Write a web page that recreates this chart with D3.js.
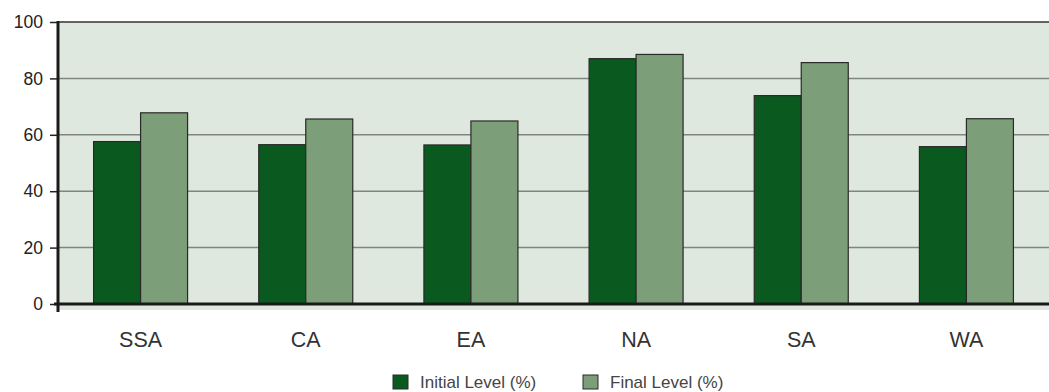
<!doctype html>
<html lang="en">
<head>
  <meta charset="utf-8">
  <style>
    body { margin: 0; background: #fff; }
    text { font-family: "Liberation Sans", Arial, sans-serif; }
  </style>
</head>
<body>
  <div id="chart"></div>
  <script src="https://d3js.org/d3.v7.min.js"></script>
  <script>
  // data
  var categories = ["SSA", "CA", "EA", "NA", "SA", "WA"];
  var initialLevel = [57.6, 56.5, 56.4, 87.0, 73.9, 55.8];
  var finalLevel = [67.8, 65.6, 64.9, 88.5, 85.6, 65.7];
  var seriesNames = ["Initial Level (%)", "Final Level (%)"];
  var yTicks = [0, 20, 40, 60, 80, 100];

  var width = 1049, height = 392;
  var margin = {top: 22, right: 0, bottom: 88, left: 58};
  var plotW = width - margin.left - margin.right;
  var plotH = height - margin.top - margin.bottom;

  var svg = d3.select("#chart").append("svg")
      .attr("width", width)
      .attr("height", height);

  var g = svg.append("g")
      .attr("transform", "translate(" + margin.left + "," + margin.top + ")");

  var x = d3.scaleBand().domain(categories).range([0, plotW]);
  var x1 = d3.scaleBand().domain(seriesNames).range([0, 94]);
  var y = d3.scaleLinear().domain([0, 100]).range([plotH, 0]);

  // plot background
  g.append("rect")
      .attr("x", 0).attr("y", 0)
      .attr("width", plotW).attr("height", plotH + 6)
      .attr("fill", "#dfe8de");

  // grid lines
  g.selectAll(".grid").data(yTicks.filter(function(d) { return d > 0 && d < 100; }))
    .enter().append("line")
      .attr("x1", 0).attr("x2", plotW)
      .attr("y1", function(d) { return y(d); })
      .attr("y2", function(d) { return y(d); })
      .attr("stroke", "#7f867f")
      .attr("stroke-width", 1.5);

  // top border
  g.append("line")
      .attr("x1", 0).attr("x2", plotW)
      .attr("y1", y(100)).attr("y2", y(100))
      .attr("stroke", "#333").attr("stroke-width", 1.5);

  // bars
  var colors = ["#0a5a20", "#7c9e78"];
  var groups = g.selectAll(".cat").data(categories)
    .enter().append("g")
      .attr("transform", function(d) {
        return "translate(" + (x(d) + x.bandwidth() / 2 - 47) + ",0)";
      });

  groups.selectAll("rect")
    .data(function(d, i) { return [initialLevel[i], finalLevel[i]]; })
    .enter().append("rect")
      .attr("x", function(d, j) { return x1(seriesNames[j]); })
      .attr("y", function(d) { return y(d); })
      .attr("width", x1.bandwidth())
      .attr("height", function(d) { return y(0) - y(d); })
      .attr("fill", function(d, j) { return colors[j]; })
      .attr("stroke", "#2a2a2a")
      .attr("stroke-width", 1.2);

  // y axis
  var yAxis = g.append("g")
      .call(d3.axisLeft(y).tickValues(yTicks).tickSize(8).tickPadding(7));
  yAxis.select(".domain").remove();
  yAxis.selectAll(".tick line").attr("stroke", "#222").attr("stroke-width", 1.5);
  yAxis.selectAll(".tick text")
      .attr("font-size", 17.5).attr("fill", "#222")
      .style("font-family", "Liberation Sans, Arial, sans-serif");

  g.append("line")
      .attr("x1", 0).attr("x2", 0)
      .attr("y1", y(100) - 1).attr("y2", plotH + 8)
      .attr("stroke", "#1a1a1a").attr("stroke-width", 3);

  // zero axis
  g.append("line")
      .attr("x1", -4).attr("x2", plotW)
      .attr("y1", y(0)).attr("y2", y(0))
      .attr("stroke", "#1a1a1a").attr("stroke-width", 3);

  // x labels
  g.selectAll(".xlab").data(categories)
    .enter().append("text")
      .attr("x", function(d) { return x(d) + x.bandwidth() / 2; })
      .attr("y", plotH + 43)
      .attr("text-anchor", "middle")
      .attr("font-size", 21.5)
      .attr("fill", "#333")
      .text(function(d) { return d; });

  // legend
  var legendX = [393, 583];
  var legend = svg.selectAll(".legend").data(seriesNames)
    .enter().append("g")
      .attr("transform", function(d, i) { return "translate(" + legendX[i] + ",375)"; });
  legend.append("rect")
      .attr("width", 15).attr("height", 14)
      .attr("fill", function(d, i) { return colors[i]; })
      .attr("stroke", "#2a2a2a").attr("stroke-width", 1);
  legend.append("text")
      .attr("x", 27).attr("y", 13)
      .attr("font-size", 17)
      .attr("fill", "#444")
      .text(function(d) { return d; });
  </script>
</body>
</html>
